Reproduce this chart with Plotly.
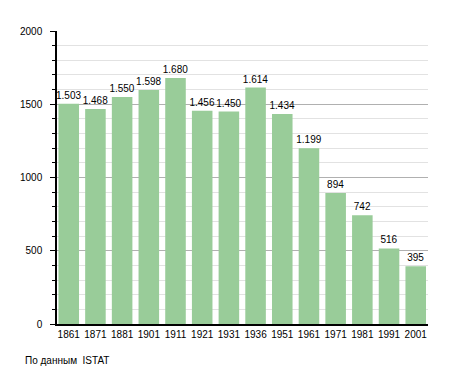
import plotly.graph_objects as go

years = ["1861", "1871", "1881", "1901", "1911", "1921", "1931", "1936", "1951", "1961", "1971", "1981", "1991", "2001"]
population = [1503, 1468, 1550, 1598, 1680, 1456, 1450, 1614, 1434, 1199, 894, 742, 516, 395]
labels = [f"{v:,}".replace(",", ".") for v in population]
y_ticks = [0, 500, 1000, 1500, 2000]

fig = go.Figure(go.Bar(
    x=years, y=population, text=labels, textposition="outside",
    constraintext="none",
    textfont=dict(size=10, color="#000"), cliponaxis=False,
    marker=dict(color="#99cc99", line=dict(width=0)),
    width=0.77,
))

# page body has an 8px default margin: shrink the figure to fit the window
fig.update_layout(
    width=447, height=365,
    margin=dict(l=41, r=27, t=23, b=49),
    plot_bgcolor="white", paper_bgcolor="white",
    font=dict(family="Liberation Sans, Arial, sans-serif", size=10, color="#000"),
    showlegend=False,
    xaxis=dict(
        type="category", range=[-0.44, 13.46],
        showline=True, linecolor="#000", linewidth=1.5,
        ticks="", tickfont=dict(size=10), showgrid=False,
    ),
    yaxis=dict(
        range=[0, 2000], tickvals=y_ticks,
        showline=True, linecolor="#000", linewidth=1.5,
        ticks="outside", ticklen=5, tickcolor="#000",
        showgrid=True, gridcolor="#b0b0b0", gridwidth=1,
        tickfont=dict(size=10), ticklabelstandoff=6,
        minor=dict(dtick=100, showgrid=True, gridcolor="#e2e2e2",
                   ticks="outside", ticklen=3, tickcolor="#000"),
        zeroline=False,
    ),
    annotations=[dict(
        text="По данным  ISTAT", xref="paper", yref="paper",
        x=-35/379, y=-37/293,
        showarrow=False, xanchor="left", yanchor="middle",
        font=dict(size=10),
    )],
)

fig.write_html("out.html")
